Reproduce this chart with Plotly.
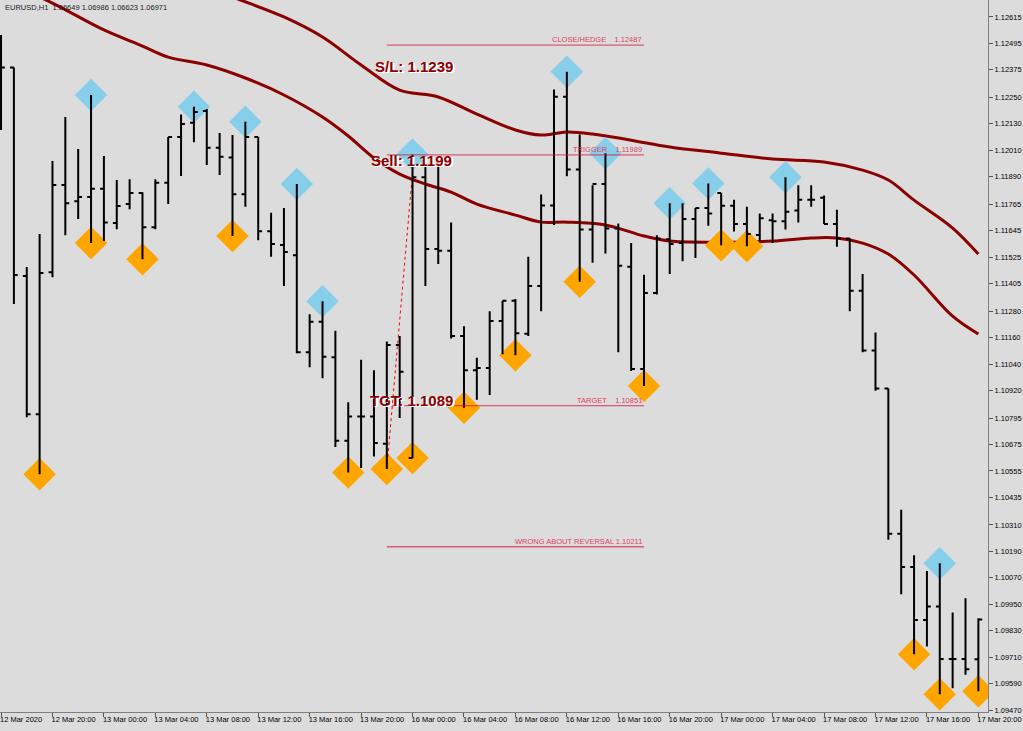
import plotly.graph_objects as go

# ---------------- data ----------------
bar_index = list(range(77))

opens = [1.12450, 1.12386, 1.11439, 1.10812, 1.11457, 1.11852, 1.11779, 1.11798, 1.11836, 1.11680,
         1.11766, 1.11816, 1.11661, 1.11863, 1.12070, 1.12135, 1.12188, 1.12022, 1.11977, 1.11811,
         1.12070, 1.11643, 1.11580, 1.11534, 1.11094, 1.11232, 1.11071, 1.10692, 1.10802, 1.10802,
         1.10678, 1.11126, 1.10614, 1.11888, 1.11562, 1.11554, 1.11167, 1.11012, 1.11022, 1.11235,
         1.11327, 1.11177, 1.11394, 1.11760, 1.12253, 1.11923, 1.11651, 1.11857, 1.11655, 1.11482,
         1.11018, 1.11362, 1.11606, 1.11589, 1.11698, 1.11748, 1.11816, 1.11758, 1.11676, 1.11626,
         1.11692, 1.11688, 1.11737, 1.11785, 1.11795, 1.11676, 1.11610, 1.11373, 1.11101, 1.10929,
         1.10270, 1.10119, 1.09878, 1.09940, 1.09702, 1.09702, 1.09700]
highs = [1.12533, 1.12386, 1.11480, 1.11630, 1.11961, 1.12161, 1.12016, 1.12261, 1.11984, 1.11875,
         1.11879, 1.11820, 1.11879, 1.12070, 1.12172, 1.12208, 1.12197, 1.12088, 1.12079, 1.12139,
         1.12070, 1.11727, 1.11748, 1.11857, 1.11266, 1.11325, 1.11191, 1.10867, 1.11059, 1.11012,
         1.11142, 1.11167, 1.11991, 1.11961, 1.11934, 1.11682, 1.11212, 1.11069, 1.11280, 1.11327,
         1.11335, 1.11527, 1.11809, 1.12286, 1.12366, 1.12082, 1.11851, 1.11997, 1.11678, 1.11589,
         1.11445, 1.11624, 1.11770, 1.11770, 1.11748, 1.11859, 1.11816, 1.11785, 1.11754, 1.11723,
         1.11723, 1.11888, 1.11851, 1.11851, 1.11805, 1.11740, 1.11610, 1.11449, 1.11183, 1.10929,
         1.10379, 1.10172, 1.10101, 1.10136, 1.09913, 1.09977, 1.09886]
lows = [1.12102, 1.11312, 1.10799, 1.10540, 1.11434, 1.11625, 1.11698, 1.11589, 1.11598, 1.11652,
        1.11743, 1.11516, 1.11652, 1.11766, 1.11893, 1.12047, 1.11943, 1.11898, 1.11621, 1.11754,
        1.11602, 1.11527, 1.11394, 1.11089, 1.11026, 1.10976, 1.10663, 1.10548, 1.10568, 1.10620,
        1.10564, 1.10795, 1.10614, 1.11394, 1.11494, 1.11156, 1.10842, 1.10878, 1.10899, 1.11084,
        1.11080, 1.11167, 1.11280, 1.11671, 1.11892, 1.11414, 1.11500, 1.11542, 1.11094, 1.11008,
        1.10940, 1.11356, 1.11449, 1.11507, 1.11521, 1.11667, 1.11579, 1.11641, 1.11575, 1.11599,
        1.11589, 1.11651, 1.11682, 1.11754, 1.11676, 1.11572, 1.11280, 1.11094, 1.10919, 1.10243,
        1.09995, 1.09723, 1.09758, 1.09542, 1.09569, 1.09630, 1.09555]
closes = [1.12386, 1.11444, 1.10812, 1.11453, 1.11852, 1.11770, 1.11798, 1.11836, 1.11682, 1.11757,
          1.11816, 1.11661, 1.11863, 1.12070, 1.12129, 1.12184, 1.12022, 1.11981, 1.11811, 1.12070,
          1.11643, 1.11585, 1.11548, 1.11094, 1.11232, 1.11073, 1.10692, 1.10802, 1.10802, 1.10682,
          1.11126, 1.11005, 1.11888, 1.11562, 1.11554, 1.11167, 1.11012, 1.11022, 1.11235, 1.11327,
          1.11180, 1.11394, 1.11760, 1.12253, 1.11923, 1.11651, 1.11857, 1.11655, 1.11486, 1.11018,
          1.11362, 1.11610, 1.11585, 1.11698, 1.11748, 1.11723, 1.11758, 1.11676, 1.11630, 1.11702,
          1.11688, 1.11731, 1.11785, 1.11785, 1.11676, 1.11610, 1.11373, 1.11101, 1.10929, 1.10270,
          1.10119, 1.09878, 1.09940, 1.09702, 1.09702, 1.09655, 1.09881]

# swing markers (bar indices)
swing_high_idx = [7, 15, 19, 23, 25, 32, 44, 47, 52, 55, 61, 73]
swing_low_idx = [3, 7, 11, 18, 27, 30, 32, 36, 40, 45, 50, 56, 58, 71, 73, 76]

# envelope lines (bar index, price)
upper_idx = [14, 18, 22, 25, 28, 31, 34, 37, 40, 42, 44, 46, 49, 52, 56, 60, 64, 67, 69, 71, 74, 76]
upper_val = [1.12800, 1.12706, 1.12615, 1.12524, 1.12397, 1.12283, 1.12252, 1.12174, 1.12102, 1.12079,
             1.12093, 1.12084, 1.12056, 1.12025, 1.11997, 1.11970, 1.11957, 1.11920, 1.11875, 1.11784,
             1.11657, 1.11539]
lower_idx = [0, 4, 8, 11, 13, 16, 19, 22, 25, 27, 29, 31, 33, 35, 37, 40, 42, 44, 47, 50, 52, 56,
             60, 63, 65, 67, 69, 71, 74, 76]
lower_val = [1.12785, 1.12678, 1.12556, 1.12483, 1.12433, 1.12397, 1.12338, 1.12261, 1.12161, 1.12075,
             1.11975, 1.11902, 1.11857, 1.11820, 1.11766, 1.11716, 1.11684, 1.11684, 1.11671, 1.11621,
             1.11598, 1.11593, 1.11598, 1.11612, 1.11612, 1.11589, 1.11539, 1.11444, 1.11257, 1.11176]

# trade levels (drawn from bar 30 to bar 50)
level_names = ["CLOSE/HEDGE\u00a0\u00a0\u00a0\u00a0", "TRIGGER\u00a0\u00a0\u00a0\u00a0",
               "TARGET\u00a0\u00a0\u00a0\u00a0", "WRONG ABOUT REVERSAL "]
level_values = [1.12487, 1.11989, 1.10851, 1.10211]
level_start_bar = 30
level_end_bar = 50

# big labels: text, bar position, price position
big_labels = ["S/L: 1.1239", "Sell: 1.1199", "TGT: 1.1089"]
big_label_x = [28.9, 28.6, 28.5]
big_label_y = [1.12388, 1.11963, 1.10874]

# dotted trend line
trend_x = [30, 32]
trend_y = [1.10564, 1.11910]

x_tick_vals = list(range(0, 77, 4))
x_tick_text = ["12 Mar 2020", "12 Mar 20:00", "13 Mar 00:00", "13 Mar 04:00", "13 Mar 08:00",
               "13 Mar 12:00", "13 Mar 16:00", "13 Mar 20:00", "16 Mar 00:00", "16 Mar 04:00",
               "16 Mar 08:00", "16 Mar 12:00", "16 Mar 16:00", "16 Mar 20:00", "17 Mar 00:00",
               "17 Mar 04:00", "17 Mar 08:00", "17 Mar 12:00", "17 Mar 16:00", "17 Mar 20:00"]
y_tick_vals = [1.12615, 1.12495, 1.12375, 1.12250, 1.12130, 1.12010, 1.11890, 1.11765, 1.11645,
               1.11525, 1.11405, 1.11280, 1.11160, 1.11040, 1.10920, 1.10795, 1.10675, 1.10555,
               1.10435, 1.10310, 1.10190, 1.10070, 1.09950, 1.09830, 1.09710, 1.09590, 1.09470]

header_text = "EURUSD,H1\u00a0\u00a01.06649 1.06986 1.06623 1.06971"

# ---------------- figure ----------------
BG = "#DCDCDC"
FONT = "Liberation Sans"
X_RANGE = [-0.08, 76.75]
Y_RANGE = [1.09461, 1.12692]

fig = go.Figure()

fig.add_trace(go.Scatter(x=upper_idx, y=upper_val, mode="lines",
                         line=dict(color="#8B0000", width=3, shape="spline", smoothing=1.0),
                         hoverinfo="skip", showlegend=False))
fig.add_trace(go.Scatter(x=lower_idx, y=lower_val, mode="lines",
                         line=dict(color="#8B0000", width=3, shape="spline", smoothing=1.0),
                         hoverinfo="skip", showlegend=False))

fig.add_trace(go.Scatter(x=swing_high_idx, y=[highs[i] for i in swing_high_idx], mode="markers",
                         marker=dict(symbol="diamond", size=25, color="#87CEEB", line=dict(width=0)),
                         showlegend=False))
fig.add_trace(go.Scatter(x=swing_low_idx, y=[lows[i] for i in swing_low_idx], mode="markers",
                         marker=dict(symbol="diamond", size=25, color="#FFA500", line=dict(width=0)),
                         showlegend=False))

fig.add_trace(go.Scatter(x=trend_x, y=trend_y, mode="lines",
                         line=dict(color="#FF0000", width=1, dash="dot"), showlegend=False))

fig.add_trace(go.Ohlc(x=bar_index, open=opens, high=highs, low=lows, close=closes,
                      increasing=dict(line=dict(color="black", width=2)),
                      decreasing=dict(line=dict(color="black", width=2)),
                      tickwidth=0.3, xaxis="x2", yaxis="y2", showlegend=False))

for name, val in zip(level_names, level_values):
    fig.add_shape(type="line", x0=level_start_bar, x1=level_end_bar, y0=val, y1=val,
                  xref="x", yref="y", line=dict(color="rgba(220,20,60,0.65)", width=1.3))
    fig.add_annotation(x=level_end_bar, y=val, xref="x", yref="y", text=f"{name}{val:.5f}",
                       showarrow=False, xanchor="right", yanchor="bottom", yshift=-1,
                       font=dict(family=FONT, size=7.5, color="#E0405E"))

for txt, bx, by in zip(big_labels, big_label_x, big_label_y):
    fig.add_annotation(x=bx, y=by, xref="x", yref="y", text=txt, showarrow=False,
                       xanchor="left", yanchor="middle",
                       font=dict(family=FONT, size=15, color="#8B0000", weight="bold",
                                 shadow="1px 1px 0px #FFFFFF, 2px 1px 0px #FFFFFF"))

fig.add_annotation(x=0, y=1, xref="paper", yref="paper", text=header_text, showarrow=False,
                   xanchor="left", yanchor="top", xshift=3, yshift=-1,
                   font=dict(family=FONT, size=7.5, color="#202020"))

axis_common = dict(showgrid=False, zeroline=False, showline=True, mirror=True,
                   linecolor="#7F7F7F", linewidth=1, ticks="outside", ticklen=4,
                   tickcolor="#555555", automargin=False, tickangle=0,
                   ticklabeloverflow="allow",
                   tickfont=dict(family=FONT, size=7.5, color="black"))

fig.update_layout(
    width=1023, height=731,
    margin=dict(l=0, r=35, t=0, b=19, autoexpand=False),
    paper_bgcolor=BG, plot_bgcolor=BG,
    showlegend=False,
    xaxis=dict(range=X_RANGE, tickvals=x_tick_vals, ticktext=x_tick_text,
               ticklabelposition="outside right", ticklabelshift=-2,
               rangeslider=dict(visible=False), **axis_common),
    yaxis=dict(range=Y_RANGE, side="right", tickvals=y_tick_vals,
               ticktext=[f"{v:.5f}" for v in y_tick_vals], **axis_common),
    xaxis2=dict(range=X_RANGE, overlaying="x", matches="x", visible=False,
                rangeslider=dict(visible=False)),
    yaxis2=dict(range=Y_RANGE, overlaying="y", matches="y", visible=False),
)

fig.write_html("out.html", config={"displayModeBar": False},
               post_script="document.body.style.margin='0';document.body.style.overflow='hidden';")
